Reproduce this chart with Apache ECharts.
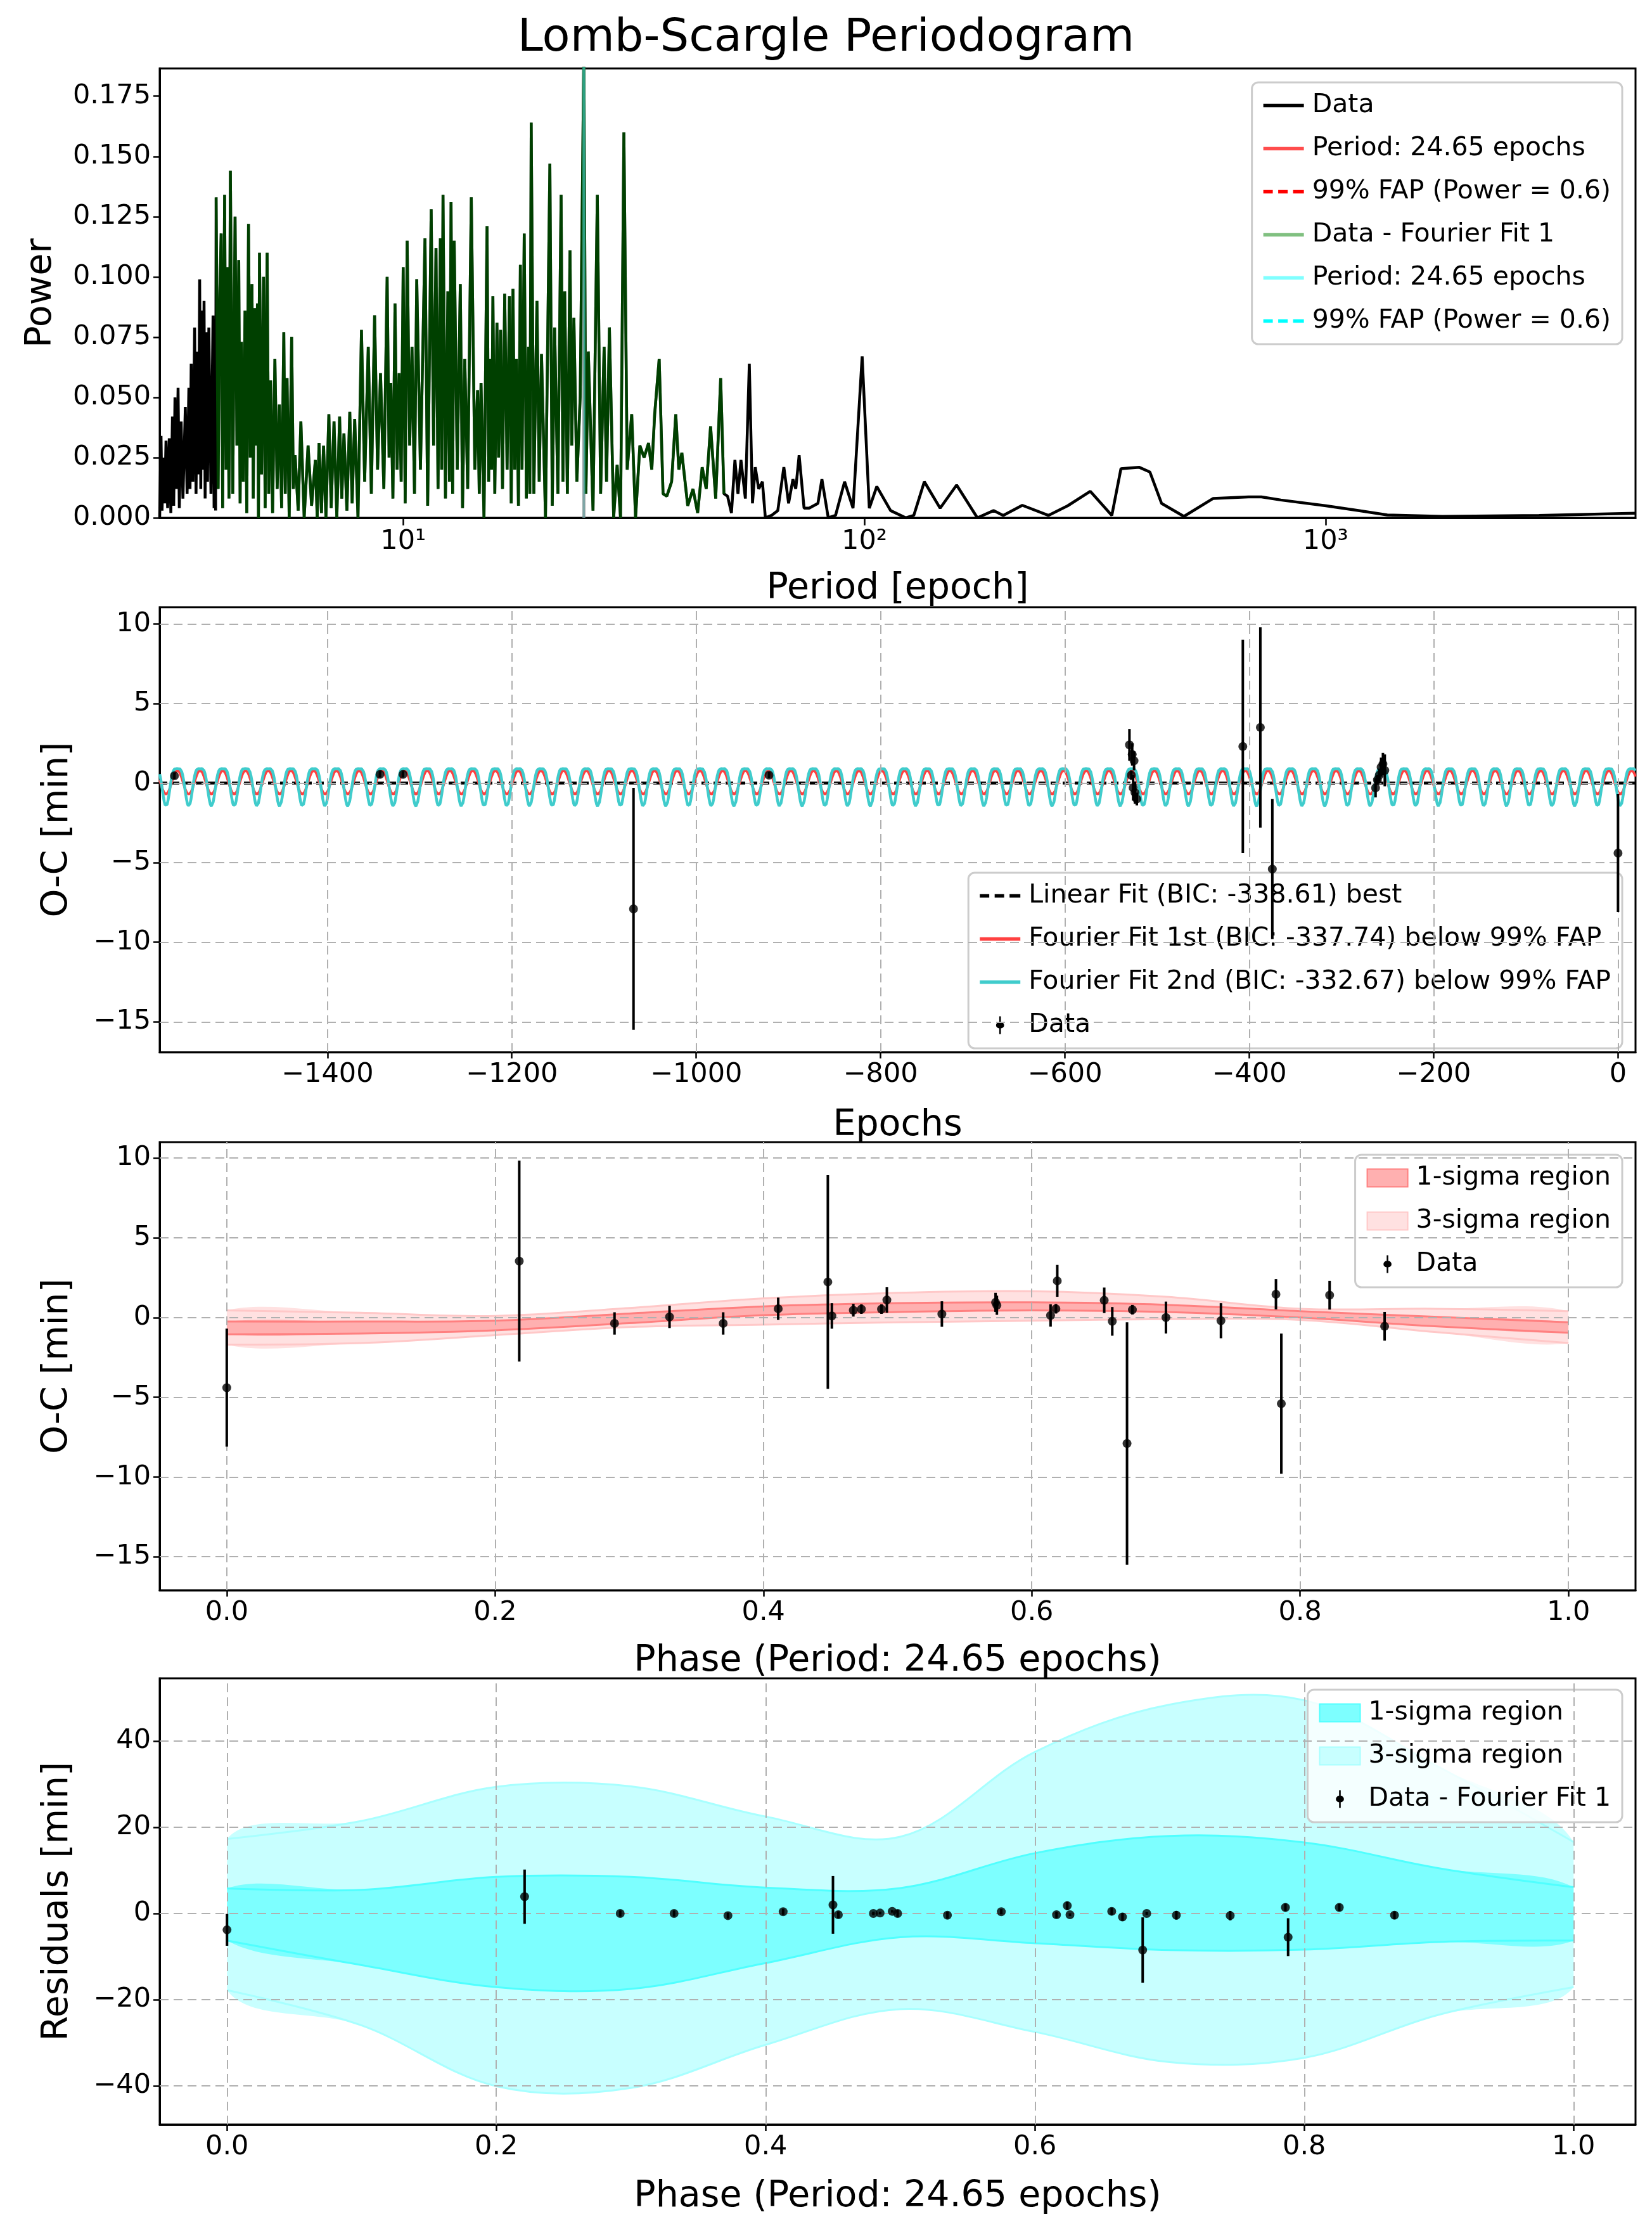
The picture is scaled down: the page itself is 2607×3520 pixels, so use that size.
<!DOCTYPE html>
<html>
<head>
<meta charset="utf-8">
<script src="https://cdn.jsdelivr.net/npm/echarts@6/dist/echarts.min.js"></script>
<style>html,body{margin:0;padding:0;background:#fff}#c{width:2607px;height:3520px}</style>
</head>
<body>
<div id="c"></div>
<script>
// ---------- data ----------
var periodPower = [
 [2.965,0.0],[2.985,0.034],[3.0,0.003],[3.02,0.025],[3.04,0.006],[3.06,0.032],[3.085,0.004],[3.11,0.033],[3.135,0.002],[3.16,0.042],[3.18,0.005],[3.20,0.050],[3.225,0.012],[3.25,0.054],[3.27,0.004],[3.30,0.040],[3.33,0.008],[3.37,0.046],[3.40,0.010],[3.43,0.054],[3.45,0.012],[3.47,0.064],[3.50,0.015],[3.53,0.079],[3.555,0.010],[3.58,0.069],[3.60,0.018],[3.62,0.099],[3.64,0.012],[3.66,0.086],[3.68,0.020],[3.70,0.090],[3.72,0.008],[3.74,0.077],[3.765,0.015],[3.79,0.079],[3.83,0.010],[3.87,0.084],[3.89,0.004],[3.91,0.078],[3.92,0.003],
 [3.93,0.133],[3.97,0.012],[4.00,0.090],[4.03,0.118],[4.06,0.004],[4.10,0.134],[4.13,0.020],[4.16,0.104],[4.19,0.008],[4.22,0.144],[4.27,0.010],[4.32,0.125],[4.36,0.030],[4.40,0.107],[4.43,0.006],[4.46,0.073],[4.50,0.015],[4.54,0.086],[4.58,0.002],[4.62,0.122],[4.66,0.025],[4.70,0.097],[4.73,0.008],[4.77,0.087],[4.80,0.030],[4.83,0.089],[4.855,0.0],[4.88,0.110],[4.93,0.018],[4.98,0.100],[5.02,0.004],[5.07,0.110],[5.11,0.010],[5.16,0.057],[5.21,0.002],[5.27,0.066],[5.33,0.012],[5.39,0.047],[5.45,0.004],[5.51,0.077],[5.55,0.010],[5.60,0.058],[5.66,0.0],[5.73,0.075],[5.78,0.012],[5.83,0.026],[5.92,0.003],[6.0,0.040],[6.1,0.0],[6.22,0.030],[6.33,0.005],[6.45,0.024],[6.51,0.0],[6.57,0.031],[6.65,0.002],[6.72,0.030],[6.80,0.0],[6.9,0.043],[6.98,0.004],[7.08,0.040],[7.18,0.0],[7.28,0.042],[7.36,0.008],[7.44,0.035],[7.55,0.003],[7.66,0.044],[7.75,0.006],[7.85,0.041],[7.98,0.0],
 [8.12,0.078],[8.25,0.015],[8.4,0.071],[8.53,0.010],[8.67,0.084],[8.8,0.020],[8.93,0.060],[9.08,0.012],[9.23,0.100],[9.32,0.025],[9.4,0.056],[9.5,0.008],[9.6,0.089],[9.7,0.020],[9.8,0.060],[9.9,0.015],[10.0,0.104],[10.1,0.006],[10.2,0.115],[10.33,0.030],[10.45,0.071],[10.58,0.010],[10.7,0.099],[10.9,0.020],[11.15,0.116],[11.3,0.005],[11.5,0.128],[11.64,0.030],[11.78,0.112],[11.9,0.012],[12.04,0.116],[12.12,0.020],[12.2,0.134],[12.35,0.008],[12.5,0.094],[12.6,0.015],[12.7,0.131],[12.8,0.010],[12.9,0.115],[13.1,0.020],[13.3,0.097],[13.45,0.004],[13.6,0.066],[13.8,0.012],[14.05,0.133],[14.3,0.020],[14.5,0.053],[14.62,0.010],[14.75,0.056],[14.97,0.0],[15.2,0.121],[15.32,0.015],[15.45,0.066],[15.55,0.020],[15.65,0.092],[15.8,0.010],[15.97,0.081],[16.1,0.025],[16.26,0.078],[16.42,0.012],[16.6,0.093],[16.8,0.020],[17.0,0.092],[17.15,0.006],[17.3,0.095],[17.45,0.020],[17.6,0.066],[17.78,0.005],[17.95,0.105],[18.1,0.020],[18.3,0.118],[18.5,0.008],[18.7,0.071],[18.82,0.010],[18.95,0.164],[19.2,0.010],[19.5,0.090],[19.72,0.015],[19.95,0.068],[20.35,0.0],[20.8,0.147],[21.05,0.005],[21.3,0.079],[21.65,0.010],[22.0,0.134],[22.2,0.015],[22.4,0.094],[22.7,0.010],[23.0,0.111],[23.2,0.030],[23.45,0.083],[23.8,0.015],[24.2,0.050],[24.65,0.195],[24.9,0.010],[25.2,0.069],[25.8,0.003],[26.36,0.134],[26.8,0.010],[27.27,0.071],[27.6,0.015],[28.0,0.079],[28.6,0.0],[29.1,0.022],[29.6,0.0],[30.1,0.160],[30.6,0.020],[31.3,0.043],[31.9,0.0],[32.6,0.030],[33.3,0.025],[34.04,0.031],[34.6,0.020],[35.1,0.043],[35.9,0.066],[36.6,0.010],[37.3,0.009],[38.2,0.015],[39.0,0.043],[39.6,0.020],[40.2,0.027],[41.4,0.005],[42.5,0.012],[43.5,0.002],[44.5,0.021],[45.4,0.012],[46.4,0.038],[47.6,0.008],[48.8,0.058],[49.6,0.010],
 [50.5,0.009],[51.5,0.002],[52.4,0.024],[53.2,0.010],[54.0,0.024],[55.2,0.008],[56.3,0.064],[57.2,0.006],[58.0,0.021],[59.0,0.012],[60.1,0.015],[61.0,0.0],[62.9,0.001],[64.9,0.003],[66.9,0.021],[68.5,0.006],[70.0,0.016],[71.0,0.012],[72.2,0.026],[74.0,0.004],[75.9,0.004],[79.3,0.006],[80.9,0.016],[83.5,0.0],[86.6,0.001],[90.6,0.015],[94.5,0.004],[98.9,0.067],[102.5,0.004],[106.4,0.013],[114,0.003],[123,0.0],[128,0.001],[134.9,0.015],[146,0.004],[158.5,0.0136],[175.8,0.0],[190.6,0.003],[200,0.001],[220,0.0052],[250.6,0.001],[276,0.005],[309,0.011],[344,0.001],[360,0.0204],[394,0.021],[416,0.019],[441,0.006],[493,0.0006],[570,0.008],[681,0.0087],[726,0.0087],[800,0.0074],[1002,0.005],[1178,0.003],[1361,0.0012],[1791,0.0006],[2904,0.001],[4700,0.0019]
];
var bestPeriod = 24.65;
var fapPower = 0.6;

// O-C vs epoch
var ocEpoch = [-1566,-1343,-1318,-1068,-921,-530,-528,-527,-526,-525,-524,-522,-407,-388,-375,-263,-261,-259,-257,-255,-253,0];
var ocValue = [0.46,0.55,0.55,-7.9,0.5,2.4,0.5,1.8,-0.3,1.4,-0.6,-1.0,2.3,3.5,-5.4,-0.3,0.2,0.5,1.0,1.2,0.8,-4.4];
var ocError = [0.2,0.2,0.2,7.6,0.2,1.0,0.3,0.7,0.8,0.6,0.7,0.4,6.7,6.3,4.4,0.6,0.3,0.4,0.6,0.7,1.0,3.7];

// fitted models (parameters)
var linearFit = {a: 0, b: 0};
var fourier1 = {c: 0.05, a1: 0.75, ph: 0.6};
var fourier2 = {c: 0.05, a1: 1.175, a2: 0.325, ph: 0.6, ph2: 0.35};

// O-C folded on phase
var phase3 = [0,0.218,0.289,0.33,0.37,0.411,0.448,0.451,0.467,0.473,0.488,0.492,0.533,0.573,0.574,0.614,0.618,0.619,0.654,0.66,0.671,0.675,0.70,0.741,0.782,0.786,0.822,0.863];
var oc3 = [-4.4,3.54,-0.37,0.04,-0.37,0.55,2.23,0.1,0.46,0.53,0.53,1.1,0.22,0.95,0.77,0.13,0.55,2.3,1.08,-0.24,-7.9,0.49,0,-0.2,1.46,-5.4,1.4,-0.55];
var err3 = [3.7,6.3,0.7,0.7,0.7,0.7,6.7,0.8,0.4,0.3,0.3,0.8,0.8,0.6,0.6,0.7,0.3,1.0,0.8,0.9,7.6,0.3,1.0,1.1,0.95,4.4,0.9,0.9];

var bandPhase = [0,0.1,0.2,0.3,0.4,0.5,0.6,0.7,0.8,0.9,1.0];
var oc1sLo = [-1.05,-1.0,-0.8,-0.35,0.15,0.35,0.45,0.35,0.0,-0.55,-0.95];
var oc1sHi = [-0.25,-0.25,-0.2,0.25,0.7,0.9,0.95,0.8,0.4,0.05,-0.3];
var oc3sLo = [-1.7,-1.6,-1.1,-0.6,-0.45,-0.3,-0.2,-0.1,-0.15,-0.9,-1.6];
var oc3sHi = [0.45,0.3,0.1,0.6,1.2,1.55,1.65,1.3,0.55,0.55,0.4];

// residuals folded on phase
var phase4 = [0,0.221,0.292,0.332,0.372,0.413,0.45,0.454,0.48,0.485,0.494,0.498,0.535,0.575,0.616,0.624,0.626,0.657,0.665,0.68,0.683,0.705,0.745,0.786,0.788,0.826,0.867];
var res4 = [-3.8,3.9,0,0,-0.5,0.4,2.0,-0.3,0,0.1,0.5,0,-0.4,0.4,-0.3,1.8,-0.3,0.5,-0.8,-8.5,0,-0.4,-0.5,1.4,-5.5,1.4,-0.4];
var err4 = [3.7,6.3,0.7,0.7,0.7,0.7,6.7,0.8,0.4,0.3,0.3,0.8,0.8,0.6,0.7,1.0,0.3,0.8,0.9,7.6,0.3,1.0,1.1,0.95,4.4,0.9,0.9];
var res1sLo = [-6.3,-12,-17.1,-17.5,-11.5,-5.5,-6.9,-8.5,-8.4,-6.6,-6.3];
var res1sHi = [5.8,5.5,8.5,8.5,6.0,5.9,14.0,18.0,16.5,10.5,6.1];
var res3sLo = [-17.8,-26,-40.1,-40.5,-30.5,-22.2,-27.5,-34.5,-33.5,-23.5,-17.1];
var res3sHi = [17.3,21.5,29.4,29.5,22.5,17.8,37.5,48.5,49.5,34,16.6];

// ---------- chart ----------
var chart = echarts.init(document.getElementById('c'));
var FONT = 'DejaVu Sans';
var TICK = 43, NAME = 57, LEG = 41;
var GRIDC = '#b0b0b0';
var minus = function(v){ return String(v).replace('-', '\u2212'); };

var grids = [
  {left:252, top:108, width:2329, height:709},
  {left:252, top:958, width:2329, height:702},
  {left:252, top:1802, width:2329, height:707},
  {left:252, top:2648, width:2329, height:704}
].map(function(g){ g.show = true; g.borderColor = '#000'; g.borderWidth = 3; g.backgroundColor = 'transparent'; return g; });

function axisBase(idx){
  return {
    gridIndex: idx,
    axisLine: {show: true, onZero: false, lineStyle: {color: '#000', width: 3}},
    axisTick: {show: true, length: 10, lineStyle: {color: '#000', width: 2.5}},
    axisLabel: {color: '#000', fontSize: TICK, fontFamily: FONT, margin: 14},
    splitLine: {show: false},
    nameTextStyle: {color: '#000', fontSize: NAME, fontFamily: FONT},
    nameLocation: 'middle'
  };
}
function ax(idx, o){ var a = axisBase(idx); for (var k in o) a[k] = o[k]; return a; }

var xTicks2 = [-1400,-1200,-1000,-800,-600,-400,-200,0];
var xTicksPh = [0,0.2,0.4,0.6,0.8,1.0];
var yTicksOC = [-15,-10,-5,0,5,10];
var yTicksRes = [-40,-20,0,20,40];
var yTicksP = [0,0.025,0.05,0.075,0.1,0.125,0.15,0.175];

var sup = {1:'\u00b9', 2:'\u00b2', 3:'\u00b3'};
var xAxes = [
  ax(0, {type:'log', min:2.965, max:4700, name:'Period [epoch]', nameGap:84,
    axisTick:{show:true, length:12, lineStyle:{color:'#000', width:2.5}, customValues:[10,100,1000]},
    axisLabel:{color:'#000', fontSize:TICK, fontFamily:FONT, margin:16, customValues:[10,100,1000],
      formatter:function(v){ return '10' + sup[Math.round(Math.log10(v))]; }}}),
  ax(1, {type:'value', min:-1582, max:19, name:'Epochs', nameGap:88}),
  ax(2, {type:'value', min:-0.05, max:1.05, name:'Phase (Period: 24.65 epochs)', nameGap:84}),
  ax(3, {type:'value', min:-0.05, max:1.046, name:'Phase (Period: 24.65 epochs)', nameGap:86})
];
xAxes[1].axisTick.customValues = xTicks2;
xAxes[1].axisLabel.customValues = xTicks2;
xAxes[1].axisLabel.formatter = function(v){ return minus(v); };
[2,3].forEach(function(i){
  xAxes[i].axisTick.customValues = xTicksPh;
  xAxes[i].axisLabel.customValues = xTicksPh;
  xAxes[i].axisLabel.formatter = function(v){ return v.toFixed(1); };
});

var yAxes = [
  ax(0, {type:'value', min:0, max:0.1865, name:'Power', nameGap:158}),
  ax(1, {type:'value', min:-16.9, max:11.05, name:'O-C [min]', nameGap:132}),
  ax(2, {type:'value', min:-17.1, max:11.0, name:'O-C [min]', nameGap:132}),
  ax(3, {type:'value', min:-49, max:54.6, name:'Residuals [min]', nameGap:132})
];
yAxes[0].axisTick.customValues = yTicksP; yAxes[0].axisLabel.customValues = yTicksP;
yAxes[0].axisLabel.formatter = function(v){ return v.toFixed(3); };
[1,2].forEach(function(i){
  yAxes[i].axisTick.customValues = yTicksOC; yAxes[i].axisLabel.customValues = yTicksOC;
  yAxes[i].axisLabel.formatter = function(v){ return minus(v); };
});
yAxes[3].axisTick.customValues = yTicksRes; yAxes[3].axisLabel.customValues = yTicksRes;
yAxes[3].axisLabel.formatter = function(v){ return minus(v); };

function gridMarks(xs, ys){
  var d = [];
  xs.forEach(function(v){ d.push({xAxis: v}); });
  ys.forEach(function(v){ d.push({yAxis: v}); });
  return {silent:true, symbol:['none','none'], label:{show:false}, animation:false,
    lineStyle:{color:GRIDC, type:[14,8], width:2}, emphasis:{disabled:true}, data:d};
}

function errorBars(i, xs, ys, es, name){
  return {
    type:'custom', name:name, xAxisIndex:i, yAxisIndex:i, z:5,
    itemStyle:{color:'#000'},
    data: xs.map(function(x, k){ return [x, ys[k], es[k]]; }),
    renderItem: function(params, api){
      var a = api.coord([api.value(0), api.value(1) - api.value(2)]);
      var b = api.coord([api.value(0), api.value(1) + api.value(2)]);
      return {type:'line', shape:{x1:a[0], y1:a[1], x2:b[0], y2:b[1]}, style:{stroke:'#000', lineWidth:4}};
    }
  };
}
function dots(i, xs, ys, name, marks){
  var s = {type:'scatter', name:name, xAxisIndex:i, yAxisIndex:i, z:6, symbolSize:14,
    itemStyle:{color:'#000'}, data: xs.map(function(x, k){ return [x, ys[k]]; })};
  if (marks) s.markLine = marks;
  return s;
}
function band(i, name, lo, hi, fill, edge){
  return {
    type:'custom', name:name, xAxisIndex:i, yAxisIndex:i, z:2,
    itemStyle:{color:fill, borderColor:edge, borderWidth:3},
    data:[[0]],
    renderItem: function(params, api){
      var top = bandPhase.map(function(p, k){ return api.coord([p, hi[k]]); });
      var bot = bandPhase.map(function(p, k){ return api.coord([p, lo[k]]); }).reverse();
      var x0 = top[0][0], x1 = top[top.length - 1][0];
      var cons = [[x0, -1e5], [x1, 1e5]];
      return {type:'group', children:[
        {type:'polygon', shape:{points: top.concat(bot), smooth:0.35, smoothConstraint:cons}, style:{fill:fill, stroke:'none'}},
        {type:'polyline', shape:{points: top, smooth:0.35, smoothConstraint:cons}, style:{stroke:edge, lineWidth:3, fill:'none'}},
        {type:'polyline', shape:{points: bot, smooth:0.35, smoothConstraint:cons}, style:{stroke:edge, lineWidth:3, fill:'none'}}
      ]};
    }
  };
}

// model curves sampled on the epoch axis
var epochGrid = [];
for (var e = -1582; e <= 19; e += 1) epochGrid.push(e);
var TWO_PI = 2 * Math.PI;
var linCurve = [[-1582, linearFit.a + linearFit.b * -1582], [19, linearFit.a + linearFit.b * 19]];
var f1Curve = epochGrid.map(function(e){
  return [e, fourier1.c + fourier1.a1 * Math.cos(TWO_PI * (e / bestPeriod - fourier1.ph))];
});
var f2Curve = epochGrid.map(function(e){
  return [e, fourier2.c + fourier2.a1 * Math.cos(TWO_PI * (e / bestPeriod - fourier2.ph))
    + fourier2.a2 * Math.cos(2 * TWO_PI * (e / bestPeriod - fourier2.ph2))];
});

var greenPower = periodPower.filter(function(d){ return d[0] >= 3.93 && d[0] <= 50; });
var ZW = '\u200b';
var barIcon = 'path://M9,0h2v7a4,4 0 0 1 0,8v7h-2v-7a4,4 0 0 1 0,-8z';
var solidIcon = 'path://M0,0h60v5h-60z';
var dashIcon = 'path://M0,0h14v5h-14z M22,0h14v5h-14z M44,0h16v5h-16z';

var series = [
  {type:'line', name:'Data', xAxisIndex:0, yAxisIndex:0, data:periodPower, symbol:'none',
    lineStyle:{color:'#000', width:4.5}, itemStyle:{color:'#000'}, z:2},
  {type:'line', name:'Period: 24.65 epochs', xAxisIndex:0, yAxisIndex:0, symbol:'none',
    data:[[bestPeriod,0],[bestPeriod,1]], lineStyle:{color:'rgba(255,0,0,0.7)', width:4.5}, itemStyle:{color:'#ff4d4d'}, z:3},
  {type:'line', name:'99% FAP (Power = 0.6)', xAxisIndex:0, yAxisIndex:0, symbol:'none',
    data:[[2.965,fapPower],[4700,fapPower]], lineStyle:{color:'#ff0000', width:4.5, type:[12,6]}, itemStyle:{color:'#ff0000'}},
  {type:'line', name:'Data - Fourier Fit 1', xAxisIndex:0, yAxisIndex:0, data:greenPower, symbol:'none',
    lineStyle:{color:'rgba(0,128,0,0.5)', width:4.5}, itemStyle:{color:'#80c080'}, z:3},
  {type:'line', name:'Period: 24.65 epochs' + ZW, xAxisIndex:0, yAxisIndex:0, symbol:'none',
    data:[[bestPeriod,0],[bestPeriod,1]], lineStyle:{color:'rgba(0,255,255,0.5)', width:4.5}, itemStyle:{color:'#80ffff'}, z:4},
  {type:'line', name:'99% FAP (Power = 0.6)' + ZW, xAxisIndex:0, yAxisIndex:0, symbol:'none',
    data:[[2.965,fapPower],[4700,fapPower]], lineStyle:{color:'#00ffff', width:4.5, type:[12,6]}, itemStyle:{color:'#00ffff'}},

  {type:'line', name:'Linear Fit (BIC: -338.61) best', xAxisIndex:1, yAxisIndex:1, data:linCurve, symbol:'none',
    lineStyle:{color:'#000', width:4.5, type:[12,7]}, itemStyle:{color:'#000'}, z:2},
  {type:'line', name:'Fourier Fit 1st (BIC: -337.74) below 99% FAP', xAxisIndex:1, yAxisIndex:1, data:f1Curve, symbol:'none',
    lineStyle:{color:'#ff4040', width:4}, itemStyle:{color:'#ff4040'}, z:3},
  {type:'line', name:'Fourier Fit 2nd (BIC: -332.67) below 99% FAP', xAxisIndex:1, yAxisIndex:1, data:f2Curve, symbol:'none',
    lineStyle:{color:'#40cccc', width:4.5}, itemStyle:{color:'#40cccc'}, z:4},
  errorBars(1, ocEpoch, ocValue, ocError, 'Data' + ZW),
  dots(1, ocEpoch, ocValue, 'Data' + ZW, gridMarks(xTicks2, yTicksOC)),

  band(2, '3-sigma region', oc3sLo, oc3sHi, '#ffe1e1', '#ffc8c8'),
  band(2, '1-sigma region', oc1sLo, oc1sHi, '#ffb0b0', '#ff8080'),
  errorBars(2, phase3, oc3, err3, 'Data' + ZW + ZW),
  dots(2, phase3, oc3, 'Data' + ZW + ZW, gridMarks(xTicksPh, yTicksOC)),

  band(3, '3-sigma region' + ZW, res3sLo, res3sHi, '#c8ffff', '#a8ffff'),
  band(3, '1-sigma region' + ZW, res1sLo, res1sHi, '#7dffff', '#50ffff'),
  errorBars(3, phase4, res4, err4, 'Data - Fourier Fit 1' + ZW),
  dots(3, phase4, res4, 'Data - Fourier Fit 1' + ZW, gridMarks(xTicksPh, yTicksRes))
];

function legend(right, top, items, gap){
  return {
    orient:'vertical', right:right, top:top, itemWidth:64, itemHeight:28, itemGap:gap,
    backgroundColor:'rgba(255,255,255,0.8)', borderColor:'#cccccc', borderWidth:3, borderRadius:10,
    padding:[16,18,16,18], selectedMode:false,
    textStyle:{color:'#000', fontSize:LEG, fontFamily:FONT, padding:[0,0,0,8]},
    data:items
  };
}

chart.setOption({
  animation:false,
  backgroundColor:'#fff',
  title:{text:'Lomb-Scargle Periodogram', left:'center', top:20,
    textStyle:{color:'#000', fontSize:72, fontWeight:'normal', fontFamily:FONT}},
  grid:grids,
  xAxis:xAxes,
  yAxis:yAxes,
  legend:[
    legend(47, 130, [
      {name:'Data', icon:solidIcon},
      {name:'Period: 24.65 epochs', icon:solidIcon},
      {name:'99% FAP (Power = 0.6)', icon:dashIcon},
      {name:'Data - Fourier Fit 1', icon:solidIcon},
      {name:'Period: 24.65 epochs' + ZW, icon:solidIcon},
      {name:'99% FAP (Power = 0.6)' + ZW, icon:dashIcon}
    ], 27),
    legend(47, 1377, [
      {name:'Linear Fit (BIC: -338.61) best', icon:dashIcon},
      {name:'Fourier Fit 1st (BIC: -337.74) below 99% FAP', icon:solidIcon},
      {name:'Fourier Fit 2nd (BIC: -332.67) below 99% FAP', icon:solidIcon},
      {name:'Data' + ZW, icon:barIcon}
    ], 27),
    legend(47, 1822, [
      {name:'1-sigma region', icon:'rect'},
      {name:'3-sigma region', icon:'rect'},
      {name:'Data' + ZW + ZW, icon:barIcon}
    ], 27),
    legend(47, 2666, [
      {name:'1-sigma region' + ZW, icon:'rect'},
      {name:'3-sigma region' + ZW, icon:'rect'},
      {name:'Data - Fourier Fit 1' + ZW, icon:barIcon}
    ], 27)
  ],
  series:series
});
</script>
</body>
</html>
